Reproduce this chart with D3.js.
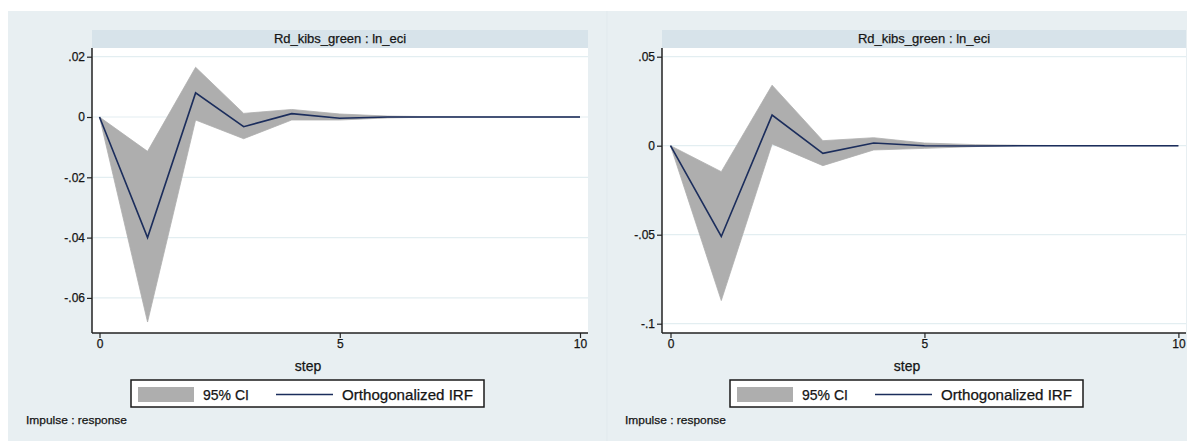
<!DOCTYPE html>
<html>
<head>
<meta charset="utf-8">
<script src="https://cdn.jsdelivr.net/npm/d3@7"></script>
<style>
  html, body { margin: 0; padding: 0; background: #ffffff; }
  svg { display: block; }
  text { font-family: "Liberation Sans", Arial, sans-serif; fill: #151515; stroke: #151515; stroke-width: 0.25px; }
</style>
</head>
<body>
<svg id="chart" width="1194" height="441"></svg>
<script>
// Impulse-response steps
const steps = [0, 1, 2, 3, 4, 5, 6, 7, 8, 9, 10];

// Left panel: orthogonalized IRF and 95% CI bounds
const irfLeft   = [0, -0.0400, 0.0080, -0.0032, 0.0011, -0.0004, 0.0000, 0, 0, 0, 0];
const upperLeft = [0, -0.0114, 0.0165,  0.0012, 0.0025,  0.0010, 0.0003, 0.0001, 0, 0, 0];
const lowerLeft = [0, -0.0680, -0.0010, -0.0072, -0.0010, -0.0010, -0.0003, 0, 0, 0, 0];

// Right panel: orthogonalized IRF and 95% CI bounds
const irfRight   = [0, -0.0510, 0.0172, -0.0043, 0.0015, 0.0000, -0.0002, 0, 0, 0, 0];
const upperRight = [0, -0.0146, 0.0340,  0.0028, 0.0045, 0.0015, 0.0006, 0.0002, 0, 0, 0];
const lowerRight = [0, -0.0870, 0.0010, -0.0112, -0.0024, -0.0015, -0.0005, 0, 0, 0, 0];

// Tick labels
const xTicks = [0, 5, 10];
const yTicksLeft = [0.02, 0, -0.02, -0.04, -0.06];
const yTickLabelsLeft = [".02", "0", "-.02", "-.04", "-.06"];
const yTicksRight = [0.05, 0, -0.05, -0.1];
const yTickLabelsRight = [".05", "0", "-.05", "-.1"];

const panelTitle = "Rd_kibs_green : ln_eci";
const legendLabels = ["95% CI", "Orthogonalized IRF"];
const noteText = "Impulse : response";
const xTitle = "step";

const svg = d3.select("#chart");

function drawPanel(cfg) {
  const g = svg.append("g");

  // outer graph region
  g.append("rect")
    .attr("x", cfg.bgX0).attr("y", 11)
    .attr("width", cfg.bgX1 - cfg.bgX0).attr("height", 430)
    .attr("fill", "#e8eff2");

  // plot title strip
  g.append("rect")
    .attr("x", cfg.plotX0).attr("y", 30)
    .attr("width", cfg.plotX1 - cfg.plotX0).attr("height", 18)
    .attr("fill", "#d7e3ea");
  g.append("text")
    .attr("x", (cfg.plotX0 + cfg.plotX1) / 2).attr("y", 42.5)
    .attr("text-anchor", "middle")
    .attr("font-size", 13)
    .text(panelTitle);

  // plot area
  const top = 48, bottom = 333;
  g.append("rect")
    .attr("x", cfg.plotX0).attr("y", top)
    .attr("width", cfg.plotX1 - cfg.plotX0).attr("height", bottom - top)
    .attr("fill", "#ffffff");

  const x = d3.scaleLinear().domain([0, 10]).range([cfg.x0px, cfg.x10px]);
  const y = d3.scaleLinear().domain(cfg.yDomain).range(cfg.yRange);

  // horizontal gridlines
  g.selectAll(".grid").data(cfg.yTicks).join("line")
    .attr("x1", cfg.plotX0 + 1).attr("x2", cfg.plotX1)
    .attr("y1", d => y(d)).attr("y2", d => y(d))
    .attr("stroke", "#e3eef1").attr("stroke-width", 1.2);

  // confidence band
  const area = d3.area()
    .x((d, i) => x(steps[i]))
    .y0((d, i) => y(cfg.lower[i]))
    .y1((d, i) => y(cfg.upper[i]));
  g.append("path")
    .datum(steps)
    .attr("d", area)
    .attr("fill", "#aeaeae")
    .attr("stroke", "#aeaeae")
    .attr("stroke-width", 0.8);

  // IRF line
  const line = d3.line()
    .x((d, i) => x(steps[i]))
    .y((d, i) => y(cfg.irf[i]));
  g.append("path")
    .datum(steps)
    .attr("d", line)
    .attr("fill", "none")
    .attr("stroke", "#1b2d5c")
    .attr("stroke-width", 1.6);

  // y axis
  const yAxis = d3.axisLeft(y)
    .tickValues(cfg.yTicks)
    .tickFormat((d, i) => cfg.yLabels[i])
    .tickSize(5).tickPadding(2);
  const ya = g.append("g")
    .attr("transform", `translate(${cfg.plotX0},0)`)
    .call(yAxis);
  ya.select(".domain").remove();
  ya.selectAll(".tick line").attr("stroke", "#222").attr("stroke-width", 1.2);
  ya.selectAll(".tick text").attr("font-size", 12).attr("fill", "#151515")
    .attr("font-family", "Liberation Sans, Arial, sans-serif");
  g.append("line")
    .attr("x1", cfg.plotX0).attr("x2", cfg.plotX0)
    .attr("y1", top).attr("y2", bottom)
    .attr("stroke", "#222").attr("stroke-width", 1.5);

  // x axis
  const xAxis = d3.axisBottom(x)
    .tickValues(xTicks)
    .tickSize(5).tickPadding(1);
  const xa = g.append("g")
    .attr("transform", `translate(0,${bottom})`)
    .call(xAxis);
  xa.select(".domain").remove();
  xa.selectAll(".tick line").attr("stroke", "#222").attr("stroke-width", 1.2);
  xa.selectAll(".tick text").attr("font-size", 12).attr("fill", "#151515")
    .attr("font-family", "Liberation Sans, Arial, sans-serif");
  g.append("line")
    .attr("x1", cfg.plotX0).attr("x2", cfg.plotX1)
    .attr("y1", bottom).attr("y2", bottom)
    .attr("stroke", "#222").attr("stroke-width", 1.5);

  // x axis title
  g.append("text")
    .attr("x", cfg.stepX).attr("y", 371)
    .attr("text-anchor", "middle")
    .attr("font-size", 14)
    .text(xTitle);

  // legend
  const lx = cfg.legX;
  g.append("rect")
    .attr("x", lx).attr("y", 380)
    .attr("width", 353).attr("height", 27)
    .attr("fill", "#ffffff")
    .attr("stroke", "#1a1a1a").attr("stroke-width", 1.5);
  g.append("rect")
    .attr("x", lx + 7).attr("y", 387)
    .attr("width", 56).attr("height", 15)
    .attr("fill", "#aeaeae");
  g.append("text")
    .attr("x", lx + 72).attr("y", 399.5)
    .attr("font-size", 14)
    .text(legendLabels[0]);
  g.append("line")
    .attr("x1", lx + 145).attr("x2", lx + 202)
    .attr("y1", 394.5).attr("y2", 394.5)
    .attr("stroke", "#1b2d5c").attr("stroke-width", 1.5);
  g.append("text")
    .attr("x", lx + 211).attr("y", 399.5)
    .attr("font-size", 14)
    .attr("textLength", 131)
    .attr("lengthAdjust", "spacingAndGlyphs")
    .text(legendLabels[1]);

  // note
  g.append("text")
    .attr("x", cfg.noteX).attr("y", 424)
    .attr("font-size", 11.5)
    .attr("textLength", 101)
    .attr("lengthAdjust", "spacingAndGlyphs")
    .text(noteText);
}

drawPanel({
  bgX0: 8, bgX1: 607,
  plotX0: 92, plotX1: 588,
  x0px: 99.5, x10px: 580,
  yDomain: [0, 0.02], yRange: [117, 56.7],
  yTicks: yTicksLeft, yLabels: yTickLabelsLeft,
  irf: irfLeft, upper: upperLeft, lower: lowerLeft,
  stepX: 308, legX: 131, noteX: 26
});

drawPanel({
  bgX0: 607, bgX1: 1187,
  plotX0: 662, plotX1: 1186,
  x0px: 670.5, x10px: 1178.4,
  yDomain: [0, 0.05], yRange: [145.7, 56.7],
  yTicks: yTicksRight, yLabels: yTickLabelsRight,
  irf: irfRight, upper: upperRight, lower: lowerRight,
  stepX: 907, legX: 730, noteX: 625
});

// divider between the two graphs
svg.append("line")
  .attr("x1", 607).attr("x2", 607).attr("y1", 11).attr("y2", 441)
  .attr("stroke", "#e1e9ed").attr("stroke-width", 1);
</script>
</body>
</html>
